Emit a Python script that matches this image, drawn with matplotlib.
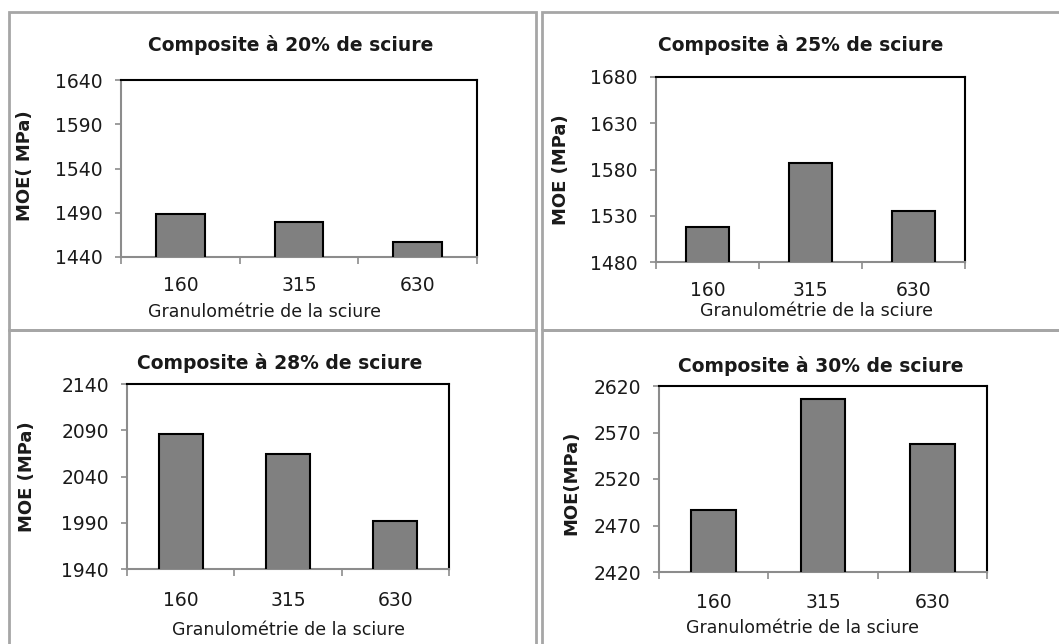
import matplotlib
matplotlib.use("Agg")
import matplotlib.pyplot as plt
from matplotlib.patches import Rectangle

plt.rcParams['font.family'] = ['DejaVu Sans']

# data
sizes = ["160", "315", "630"]
moe_20 = [1489, 1479, 1457]
moe_25 = [1518, 1587, 1535]
moe_28 = [2086, 2064, 1992]
moe_30 = [2487, 2606, 2558]

titles = ["Composite à 20% de sciure", "Composite à 25% de sciure",
          "Composite à 28% de sciure", "Composite à 30% de sciure"]
ylabels = ["MOE( MPa)", "MOE (MPa)", "MOE (MPa)", "MOE(MPa)"]
yticks = [[1440, 1490, 1540, 1590, 1640],
          [1480, 1530, 1580, 1630, 1680],
          [1940, 1990, 2040, 2090, 2140],
          [2420, 2470, 2520, 2570, 2620]]
xlabel = "Granulométrie de la sciure"

W, H = 1059, 644
fig = plt.figure(figsize=(W / 100, H / 100), dpi=100)

def px(x0, y0, x1, y1):
    # pixel box (top-left origin) -> figure fraction rect
    return [x0 / W, 1 - y1 / H, (x1 - x0) / W, (y1 - y0) / H]

# panel frames
frame_col = "#a6a6a6"
for (x0, y0, x1, y1) in [(9, 12, 536, 330), (542, 12, 1070, 330),
                         (9, 330, 536, 660), (542, 330, 1070, 660)]:
    fig.patches.append(Rectangle((x0 / W, 1 - y1 / H), (x1 - x0) / W, (y1 - y0) / H,
                                 transform=fig.transFigure, fill=False,
                                 edgecolor=frame_col, lw=2))

panels = [
    # axes box, title pos, ylabel pos, xlabel pos, x tick pad
    (px(121, 80, 477, 257), (291, 45), (25, 166), (264, 312), 14, moe_20),
    (px(656, 77, 965, 262), (801, 45), (561, 170), (817, 311), 14, moe_25),
    (px(127, 384, 449, 569), (280, 363), (27, 477), (288, 630), 16, moe_28),
    (px(659, 386, 987, 572), (821, 366), (571, 483), (803, 628), 15, moe_30),
]

txt = "#1a1a1a"
for i, (rect, tpos, ypos, xpos, xpad, vals) in enumerate(panels):
    ax = fig.add_axes(rect)
    ax.bar(range(len(sizes)), vals, width=0.41, color="#808080",
           edgecolor="black", linewidth=1.5, zorder=3)
    ax.set_xlim(-0.5, 2.5)
    ax.set_ylim(yticks[i][0], yticks[i][-1])
    ax.set_yticks(yticks[i])
    ax.set_xticks([0, 1, 2])
    ax.set_xticklabels(sizes)
    ax.set_xticks([-0.5, 0.5, 1.5, 2.5], minor=True)
    ax.tick_params(axis="x", which="major", length=0, pad=xpad, labelsize=13.5, colors=txt)
    ax.tick_params(axis="x", which="minor", length=5, width=1.2, color="#8c8c8c")
    ax.tick_params(axis="y", length=4, width=1.2, color="#8c8c8c", pad=9,
                   labelsize=13.5, labelcolor=txt)
    for s in ["left", "bottom"]:
        ax.spines[s].set_color("#8c8c8c")
        ax.spines[s].set_linewidth(1.5)
    for s in ["top", "right"]:
        ax.spines[s].set_color("black")
        ax.spines[s].set_linewidth(1.5)

    fig.text(tpos[0] / W, 1 - tpos[1] / H, titles[i], ha="center", va="center",
             fontsize=13.5, fontweight="bold", color=txt)
    fig.text(ypos[0] / W, 1 - ypos[1] / H, ylabels[i], ha="center", va="center",
             rotation=90, fontsize=13, fontweight="bold", color=txt)
    fig.text(xpos[0] / W, 1 - xpos[1] / H, xlabel, ha="center", va="center",
             fontsize=12.5, color=txt)

fig.savefig("out.png", dpi=100)
